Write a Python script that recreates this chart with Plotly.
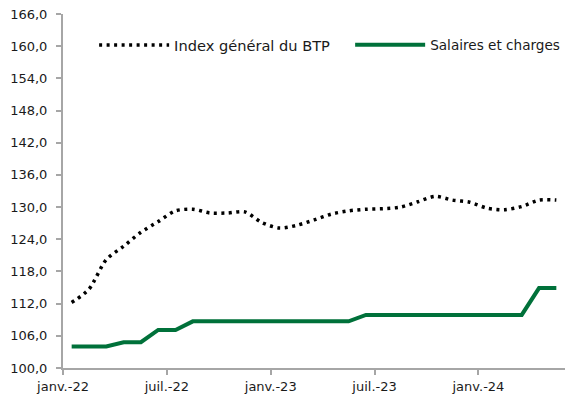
import numpy as np
import plotly.graph_objects as go

# ==========================================================
# DATA (monthly, janv.-22 -> mai-24)
# ==========================================================

index_btp = [
    112.2, 114.7, 120.2, 122.7, 125.3, 127.3, 129.3, 129.6, 128.9, 128.9,
    129.1, 127.1, 126.1, 126.6, 127.6, 128.7, 129.3, 129.6, 129.7, 130.0,
    131.0, 132.0, 131.3, 130.9, 129.8, 129.5, 130.1, 131.3, 131.3,
]

salaires = [
    104.0, 104.0, 104.0, 104.8, 104.8, 107.1, 107.1, 108.7, 108.7, 108.7,
    108.7, 108.7, 108.7, 108.7, 108.7, 108.7, 108.7, 109.9, 109.9, 109.9,
    109.9, 109.9, 109.9, 109.9, 109.9, 109.9, 109.9, 114.9, 114.9,
]

x_tick_vals = [0, 6, 12, 18, 24]
x_tick_text = ["janv.-22", "juil.-22", "janv.-23", "juil.-23", "janv.-24"]

y_tick_vals = [100, 106, 112, 118, 124, 130, 136, 142, 148, 154, 160, 166]
y_tick_text = ["100,0", "106,0", "112,0", "118,0", "124,0", "130,0",
               "136,0", "142,0", "148,0", "154,0", "160,0", "166,0"]

# points sit in the middle of each month slot (category axis look)
months = np.arange(len(index_btp)) + 0.5

FONT = "DejaVu Sans"
AXIS_GREY = "#a6a6a6"

fig = go.Figure()

fig.add_trace(
    go.Scatter(
        x=months,
        y=index_btp,
        mode="lines",
        name="Index général du BTP",
        legend="legend",
        line=dict(color="black", width=3.5, dash="3px,4.5px",
                  shape="spline", smoothing=0.8),
    )
)

fig.add_trace(
    go.Scatter(
        x=months,
        y=salaires,
        mode="lines",
        name="Salaires et charges",
        legend="legend2",
        line=dict(color="#00713a", width=4),
    )
)

# page body adds an 8px offset: margins are shifted to compensate
legend_style = dict(
    orientation="h",
    y=0.9125,
    xanchor="left",
    yanchor="middle",
    bgcolor="rgba(0,0,0,0)",
    itemwidth=70,
)

fig.update_layout(
    width=575,
    height=392,
    margin=dict(l=55, r=18, t=6, b=32),
    plot_bgcolor="white",
    paper_bgcolor="white",
    font=dict(family=FONT, size=13, color="#1a1a1a"),
    showlegend=True,
    legend=dict(x=0.062, font=dict(size=14.6), **legend_style),
    legend2=dict(x=0.572, font=dict(size=13.6), **legend_style),
)

fig.update_xaxes(
    range=[0, len(index_btp)],
    tickvals=x_tick_vals,
    ticktext=x_tick_text,
    automargin=False,
    showgrid=False,
    zeroline=False,
    showline=True,
    linecolor=AXIS_GREY,
    linewidth=2,
    ticks="outside",
    ticklen=5,
    tickwidth=1.5,
    tickcolor=AXIS_GREY,
)

fig.update_yaxes(
    range=[100, 166],
    tickvals=y_tick_vals,
    ticktext=y_tick_text,
    automargin=False,
    ticklabeloverflow="allow",
    ticklabelstandoff=6,
    showgrid=False,
    zeroline=False,
    showline=True,
    linecolor=AXIS_GREY,
    linewidth=2,
    ticks="outside",
    ticklen=5,
    tickwidth=1.5,
    tickcolor=AXIS_GREY,
)

fig.write_html("out.html")
